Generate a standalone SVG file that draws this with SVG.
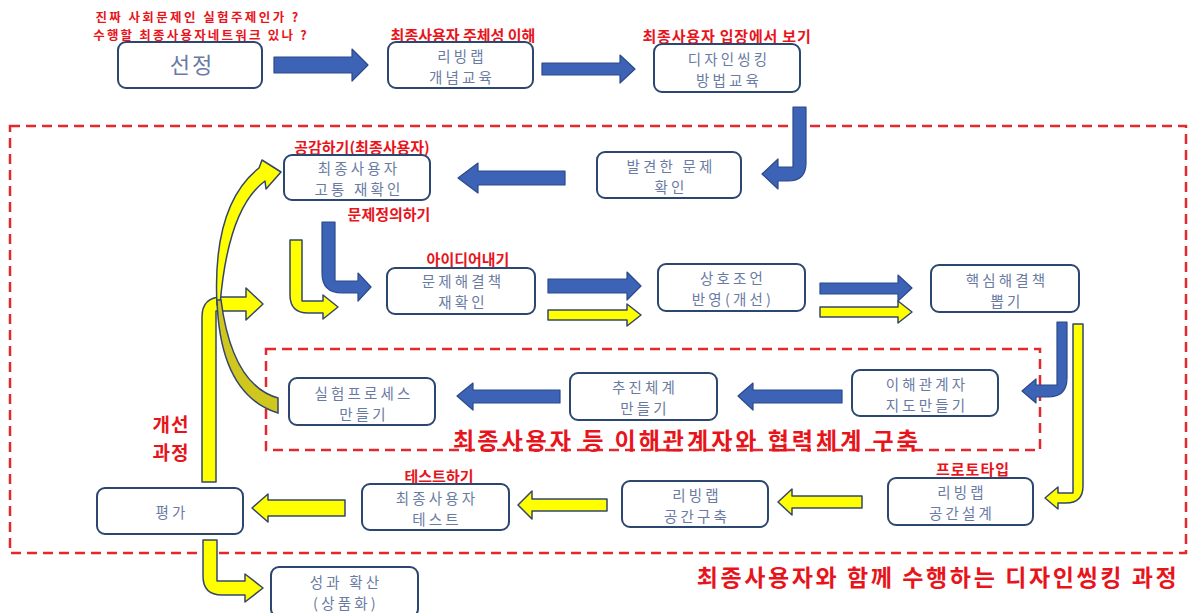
<svg xmlns="http://www.w3.org/2000/svg" width="1188" height="613" viewBox="0 0 1188 613">
<style>
.node rect{fill:#fff;stroke:#2B466F;stroke-width:2}
.nt{font-family:"Noto Sans CJK KR","Noto Sans",sans-serif;font-size:14.5px;fill:#6A7BA3;text-anchor:middle;letter-spacing:3.2px}
.lbl{font-family:"Noto Sans CJK KR","Noto Sans",sans-serif;font-weight:700;fill:#E8141C;font-size:15px;text-anchor:middle}
.big{font-family:"Noto Sans CJK KR","Noto Sans",sans-serif;font-weight:700;fill:#E8141C;font-size:23px}
.blue{fill:#3C63B5;stroke:#2B4A8A;stroke-width:1.2;stroke-linejoin:round}
.yel{fill:#FFFF00;stroke:#34476B;stroke-width:1.5;stroke-linejoin:round}
.olive{fill:#CFC61E;stroke:#34476B;stroke-width:1.5}
.dash{fill:none;stroke:#E4282E;stroke-width:2.5;stroke-dasharray:10 6}
</style>
<rect width="1188" height="613" fill="#fff"/>
<g id="frames">
<rect class="dash" x="10" y="126" width="1176" height="427"/>
<rect class="dash" x="266" y="349" width="774" height="101"/>
</g>
<g id="labels">
<text class="lbl" x="198" y="22" style="font-size:12.5px;letter-spacing:2.4px">진짜 사회문제인 실험주제인가 ?</text>
<text class="lbl" x="201" y="40" style="font-size:12.5px;letter-spacing:2.2px">수행할 최종사용자네트워크 있나 ?</text>
<text class="lbl" x="463" y="41">최종사용자 주체성 이해</text>
<text class="lbl" x="727" y="42" style="letter-spacing:0.8px">최종사용자 입장에서 보기</text>
<text class="lbl" x="362" y="153">공감하기(최종사용자)</text>
<text class="lbl" x="389" y="220">문제정의하기</text>
<text class="lbl" x="468" y="265">아이디어내기</text>
<text class="lbl" x="973" y="475" style="letter-spacing:1px">프로토타입</text>
<text class="lbl" x="439" y="482">테스트하기</text>
<text class="big" x="687" y="449" text-anchor="middle" style="letter-spacing:3px">최종사용자 등 이해관계자와 협력체계 구축</text>
<text class="big" x="171" y="432" text-anchor="middle" style="font-size:19px;letter-spacing:1px">개선</text>
<text class="big" x="171" y="460" text-anchor="middle" style="font-size:19px;letter-spacing:1px">과정</text>
<text class="big" x="938" y="586" text-anchor="middle" style="letter-spacing:2.6px">최종사용자와 함께 수행하는 디자인씽킹 과정</text>
</g>
<g id="connectors">
<path class="blue" d="M274,57 L352,57 L352,49 L368,65 L352,81 L352,73 L274,73 Z"/>
<path class="blue" d="M542,63 L620,63 L620,55 L635,69 L620,83 L620,75 L542,75 Z"/>
<path class="blue" d="M793,107 L806,107 L806,163 Q806,181 788,181 L778,181 L778,189 L762,174 L778,159 L778,167 L793,167 Z"/>
<path class="blue" d="M565,171 L478,171 L478,163 L458,178 L478,193 L478,185 L565,185 Z"/>
<path class="blue" d="M322,222 L335,222 L335,281 L358,281 L358,273 L371,287 L358,301 L358,293 L342,293 Q322,293 322,273 Z"/>
<path class="yel" d="M290,240 L302,240 L302,301 L323,301 L323,295 L338,307 L323,319 L323,313 L308,313 Q290,313 290,295 Z"/>
<path class="blue" d="M548,279 L627,279 L627,272 L641,286 L627,300 L627,293 L548,293 Z"/>
<path class="yel" d="M548,310 L627,310 L627,304 L641,315 L627,326 L627,320 L548,320 Z"/>
<path class="blue" d="M820,283 L898,283 L898,275 L912,288 L898,301 L898,294 L820,294 Z"/>
<path class="yel" d="M820,307 L898,307 L898,301 L912,312 L898,323 L898,317 L820,317 Z"/>
<path class="blue" d="M1057,322 L1067,322 L1067,378 Q1067,397 1048,397 L1036,397 L1036,403 L1022,391 L1036,379 L1036,385 L1057,385 Z"/>
<path class="yel" d="M1073,324 L1083,324 L1083,486 Q1083,503 1066,503 L1058,503 L1058,509 L1045,498 L1058,487 L1058,493 L1073,493 Z"/>
<path class="blue" d="M842,390 L753,390 L753,383 L738,396 L753,410 L753,403 L842,403 Z"/>
<path class="blue" d="M560,390 L473,390 L473,383 L457,396 L473,410 L473,403 L560,403 Z"/>
<path class="yel" d="M862,496 L792,496 L792,489 L778,502 L792,515 L792,508 L862,508 Z"/>
<path class="yel" d="M607,499 L532,499 L532,491 L518,505 L532,519 L532,511 L607,511 Z"/>
<path class="yel" d="M345,500 L268,500 L268,494 L252,508 L268,522 L268,516 L345,516 Z"/>
<path class="yel" d="M203,540 L217,540 L217,581 L245,581 L245,574 L263,588 L245,602 L245,595 L222,595 Q203,595 203,576 Z"/>
<path class="yel" d="M202,482 L216,482 L216,311 L246,311 L246,320 L263,304 L246,288 L246,297 L222,297 Q202,297 202,317 Z"/>
<path class="yel" d="M217,305 Q212,205 259,168 L262,160 L281,172 L266,189 L265,181 Q228,208 220,305 Z"/>
<path class="olive" d="M217,300 Q220,395 278,413 L278,398 Q232,385 221,300 Z"/>
</g>
<g id="n1" class="node"><rect x="118" y="42" width="144" height="46" rx="8"/><text class="nt" x="192" y="73" style="font-size:22px;letter-spacing:2px">선정</text></g>
<g id="n2" class="node"><rect x="388" y="42" width="145" height="46" rx="8"/><text class="nt" x="462" y="62">리빙랩</text><text class="nt" x="462" y="83">개념교육</text></g>
<g id="n3" class="node"><rect x="654" y="44" width="146" height="48" rx="8"/><text class="nt" x="729" y="65">디자인씽킹</text><text class="nt" x="729" y="86">방법교육</text></g>
<g id="n4" class="node"><rect x="597" y="152" width="144" height="46" rx="8"/><text class="nt" x="671" y="172">발견한 문제</text><text class="nt" x="671" y="193">확인</text></g>
<g id="n5" class="node"><rect x="284" y="155" width="146" height="45" rx="8"/><text class="nt" x="359" y="174">최종사용자</text><text class="nt" x="359" y="195">고통 재확인</text></g>
<g id="n6" class="node"><rect x="387" y="268" width="148" height="46" rx="8"/><text class="nt" x="463" y="287">문제해결책</text><text class="nt" x="463" y="308">재확인</text></g>
<g id="n7" class="node"><rect x="658" y="264" width="147" height="47" rx="8"/><text class="nt" x="733" y="284">상호조언</text><text class="nt" x="733" y="305">반영(개선)</text></g>
<g id="n8" class="node"><rect x="931" y="265" width="148" height="47" rx="8"/><text class="nt" x="1007" y="286">핵심해결책</text><text class="nt" x="1007" y="307">뽑기</text></g>
<g id="n9" class="node"><rect x="852" y="370" width="146" height="46" rx="8"/><text class="nt" x="927" y="390">이해관계자</text><text class="nt" x="927" y="411">지도만들기</text></g>
<g id="n10" class="node"><rect x="570" y="373" width="147" height="47" rx="8"/><text class="nt" x="645" y="393">추진체계</text><text class="nt" x="645" y="414">만들기</text></g>
<g id="n11" class="node"><rect x="289" y="378" width="146" height="47" rx="8"/><text class="nt" x="364" y="399">실험프로세스</text><text class="nt" x="364" y="420">만들기</text></g>
<g id="n12" class="node"><rect x="888" y="478" width="145" height="47" rx="8"/><text class="nt" x="962" y="498">리빙랩</text><text class="nt" x="962" y="519">공간설계</text></g>
<g id="n13" class="node"><rect x="622" y="481" width="146" height="46" rx="8"/><text class="nt" x="697" y="501">리빙랩</text><text class="nt" x="697" y="522">공간구축</text></g>
<g id="n14" class="node"><rect x="362" y="484" width="147" height="46" rx="8"/><text class="nt" x="437" y="504">최종사용자</text><text class="nt" x="437" y="525">테스트</text></g>
<g id="n15" class="node"><rect x="97" y="488" width="146" height="46" rx="8"/><text class="nt" x="172" y="518">평가</text></g>
<g id="n16" class="node"><rect x="271" y="567" width="147" height="50" rx="8"/><text class="nt" x="346" y="588">성과 확산</text><text class="nt" x="346" y="609">(상품화)</text></g>
</svg>
